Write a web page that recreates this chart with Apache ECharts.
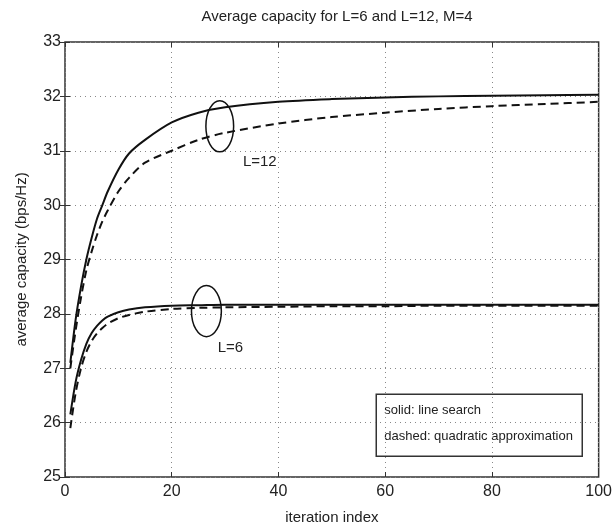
<!DOCTYPE html>
<html>
<head>
<meta charset="utf-8">
<script src="https://cdn.jsdelivr.net/npm/echarts@6/dist/echarts.min.js"></script>
<style>
  html, body { margin: 0; padding: 0; background: #fff; }
  #main { width: 615px; height: 530px; }
</style>
</head>
<body>
<div id="main"></div>
<script>
var iters = [1, 2, 3, 4, 5, 6, 7, 8, 10, 12, 15, 20, 25, 30, 40, 50, 60, 70, 80, 90, 100];

// L=12
var l12Solid  = [27.1, 27.9, 28.5, 29.0, 29.4, 29.75, 30.0, 30.25, 30.65, 30.95, 31.2, 31.52, 31.7, 31.8, 31.9, 31.95, 31.98, 32.0, 32.01, 32.02, 32.03];
var l12Dashed = [27.0, 27.7, 28.3, 28.8, 29.15, 29.45, 29.7, 29.9, 30.25, 30.5, 30.78, 31.0, 31.2, 31.33, 31.5, 31.62, 31.7, 31.77, 31.82, 31.86, 31.9];

// L=6
var l6Solid  = [26.15, 26.75, 27.15, 27.45, 27.65, 27.78, 27.88, 27.95, 28.03, 28.08, 28.12, 28.15, 28.16, 28.17, 28.17, 28.17, 28.17, 28.17, 28.17, 28.17, 28.17];
var l6Dashed = [25.9, 26.55, 27.0, 27.3, 27.5, 27.64, 27.74, 27.82, 27.92, 27.98, 28.04, 28.09, 28.11, 28.12, 28.13, 28.14, 28.14, 28.15, 28.15, 28.15, 28.15];

// ellipse annotations: [x centre, y centre, x radius, y radius]
var ellipses = [[29.0, 31.45, 2.6, 0.47], [26.5, 28.05, 2.8, 0.47]];
// curve labels: [x, y, text]
var curveLabels = [[36.5, 30.8, 'L=12'], [31.0, 27.37, 'L=6']];

var legendLines = ['solid: line search', 'dashed: quadratic approximation'];

var font = 'Liberation Sans, Arial, sans-serif';
var chart = echarts.init(document.getElementById('main'));

function pairs(ys) {
  var out = [];
  for (var i = 0; i < iters.length; i++) out.push([iters[i], ys[i]]);
  return out;
}

function lineSeries(name, ys, dashed) {
  return {
    name: name,
    type: 'line',
    data: pairs(ys),
    smooth: 0.3,
    showSymbol: false,
    silent: true,
    lineStyle: { color: '#111', width: 2, type: dashed ? [8, 5] : 'solid' },
    z: 5
  };
}

var tickStyle = { inside: true, length: 5, lineStyle: { color: '#333' } };
var gridDots = { lineStyle: { color: '#888', type: [1, 4], width: 1 } };

var option = {
  animation: false,
  backgroundColor: '#fff',
  title: {
    text: 'Average capacity for L=6 and L=12, M=4',
    left: 332, top: 4, textAlign: 'center',
    textStyle: { fontFamily: font, fontSize: 15, fontWeight: 'normal', color: '#222' }
  },
  grid: { left: 65, right: 16, top: 42, bottom: 53, show: true, borderColor: '#333', borderWidth: 1.5 },
  xAxis: [{
    type: 'value', min: 0, max: 100, interval: 20,
    name: 'iteration index', nameLocation: 'middle', nameGap: 33,
    nameTextStyle: { fontFamily: font, fontSize: 15, color: '#222' },
    axisLine: { show: false },
    axisTick: tickStyle,
    axisLabel: { fontFamily: font, fontSize: 16, color: '#222', margin: 7 },
    splitLine: gridDots
  }, {
    type: 'value', position: 'top', min: 0, max: 100, interval: 20,
    axisLine: { show: false }, axisTick: tickStyle, axisLabel: { show: false }, splitLine: { show: false }
  }],
  yAxis: [{
    type: 'value', min: 25, max: 33, interval: 1,
    name: 'average capacity (bps/Hz)', nameLocation: 'middle', nameGap: 36,
    nameTextStyle: { fontFamily: font, fontSize: 15, color: '#222' },
    axisLine: { show: false },
    axisTick: tickStyle,
    axisLabel: { fontFamily: font, fontSize: 16, color: '#222', margin: 4 },
    splitLine: gridDots
  }, {
    type: 'value', position: 'right', min: 25, max: 33, interval: 1,
    axisLine: { show: false }, axisTick: tickStyle, axisLabel: { show: false }, splitLine: { show: false }
  }],
  series: [
    lineSeries('L=12 solid', l12Solid, false),
    lineSeries('L=12 dashed', l12Dashed, true),
    lineSeries('L=6 solid', l6Solid, false),
    lineSeries('L=6 dashed', l6Dashed, true),
    {
      type: 'custom',
      silent: true,
      data: ellipses,
      renderItem: function (params, api) {
        var c = api.coord([api.value(0), api.value(1)]);
        var s = api.size([api.value(2), api.value(3)]);
        return {
          type: 'ellipse',
          shape: { cx: c[0], cy: c[1], rx: s[0], ry: s[1] },
          style: { fill: null, stroke: '#111', lineWidth: 1.5 }
        };
      },
      z: 6
    },
    {
      type: 'custom',
      silent: true,
      data: curveLabels,
      renderItem: function (params, api) {
        var c = api.coord([api.value(0), api.value(1)]);
        return {
          type: 'text',
          style: {
            x: c[0], y: c[1], text: curveLabels[params.dataIndex][2],
            fill: '#222', font: '15px ' + font, align: 'center', verticalAlign: 'middle'
          }
        };
      },
      z: 6
    }
  ],
  graphic: [{
    type: 'group', right: 32, bottom: 73,
    children: [
      { type: 'rect', shape: { x: 0, y: 0, width: 206, height: 62 },
        style: { fill: '#fff', stroke: '#333', lineWidth: 1.5 } },
      { type: 'text', left: 8, top: 10,
        style: { text: legendLines[0], font: '13px ' + font, fill: '#222' } },
      { type: 'text', left: 8, top: 36,
        style: { text: legendLines[1], font: '13px ' + font, fill: '#222' } }
    ]
  }]
};

chart.setOption(option);
</script>
</body>
</html>
